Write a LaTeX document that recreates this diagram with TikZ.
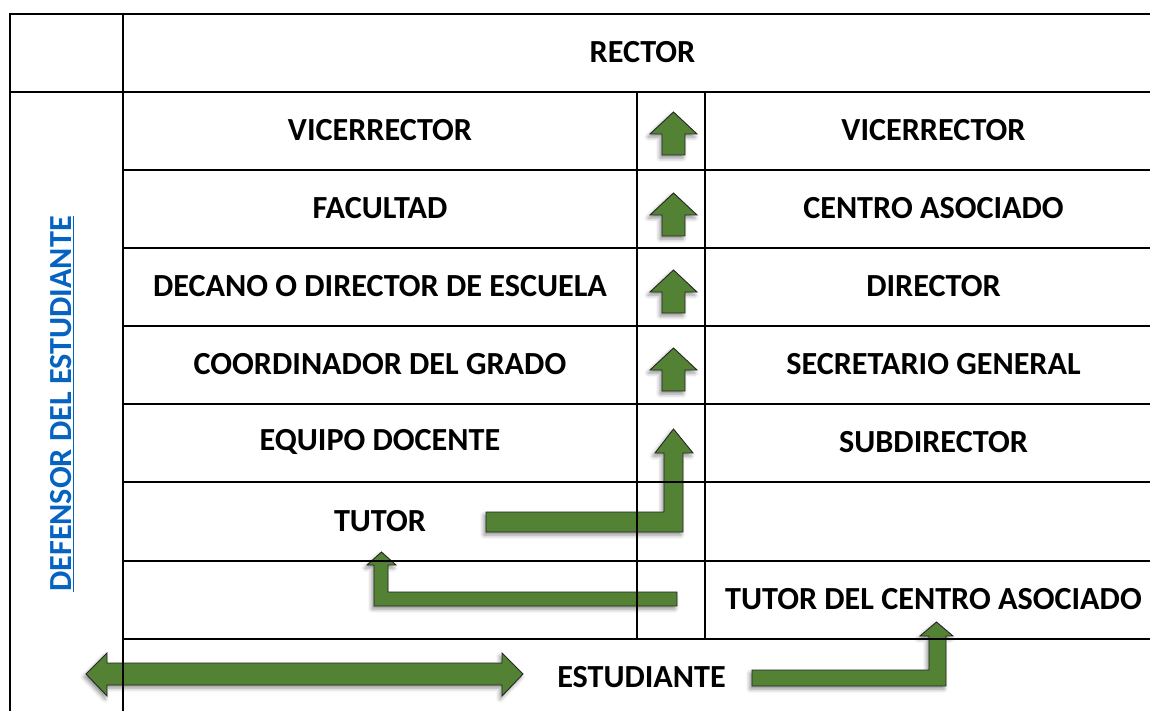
\documentclass[tikz,border=0pt]{standalone}
\usepackage{fontspec}
\setmainfont{Carlito}
\usetikzlibrary{shadows.blur}
\definecolor{agreen}{RGB}{84,130,53}
\definecolor{linkblue}{RGB}{5,99,193}
\tikzset{
  greenarrow/.style={fill=agreen, draw=black!85, line width=0.9pt, line join=miter,
    blur shadow={shadow xshift=-2pt, shadow yshift=-3pt, shadow blur radius=4pt, shadow opacity=45}},
  gridline/.style={line width=2pt, draw=black},
  celltext/.style={font=\bfseries\fontsize{32.2}{37}\selectfont, inner sep=0pt, text=black},
}
\newcommand\myuparrow[1]{%
  \path[greenarrow] (662,#1+43) -- (662,#1+22) -- (650,#1+22) -- (673.5,#1) -- (697,#1+22) -- (685,#1+22) -- (685,#1+43) -- cycle;}
\begin{document}
\begin{tikzpicture}[x=1pt,y=-1pt]
\useasboundingbox (0,0) rectangle (1150,711);
% arrows (under the grid)
\myuparrow{112}
\myuparrow{193}
\myuparrow{270}
\myuparrow{348}
\path[greenarrow] (486,512) -- (664,512) -- (664,453) -- (655,453) -- (673.5,429) -- (693,453) -- (683,453) -- (683,532) -- (486,532) -- cycle;
\path[greenarrow] (677,592) -- (388,592) -- (388,565) -- (396,565) -- (381.5,552) -- (367,565) -- (374,565) -- (374,606) -- (677,606) -- cycle;
\path[greenarrow] (752,670) -- (929,670) -- (929,636) -- (920,636) -- (936.5,622) -- (953,636) -- (946,636) -- (946,686) -- (752,686) -- cycle;
\path[greenarrow] (86,674) -- (107,653) -- (107,663) -- (502,663) -- (502,653) -- (523,674) -- (502,696) -- (502,685) -- (107,685) -- (107,696) -- cycle;
% grid
\draw[gridline] (10,711) -- (10,14) -- (1150,14);
\draw[gridline] (10,92) -- (1150,92);
\foreach \y in {170,248,326,404,482,561,639} \draw[gridline] (123,\y) -- (1150,\y);
\draw[gridline] (123,14) -- (123,711);
\draw[gridline] (637,92) -- (637,639);
\draw[gridline] (705,92) -- (705,639);
% texts
\node[celltext] (rector) at (642.5,52) {RECTOR};
\node[celltext] (l1) at (380,130) {VICERRECTOR};
\node[celltext] (l2) at (380,208) {FACULTAD};
\node[celltext] (l3) at (380,286) {DECANO O DIRECTOR DE ESCUELA};
\node[celltext] (l4) at (380,364) {COORDINADOR DEL GRADO};
\node[celltext] (l5) at (380,442) {EQUIPO DOCENTE};
\node[celltext] (l6) at (380,521) {TUTOR};
\node[celltext] (r1) at (933.5,130) {VICERRECTOR};
\node[celltext] (r2) at (933.5,208) {CENTRO ASOCIADO};
\node[celltext] (r3) at (933.5,286) {DIRECTOR};
\node[celltext] (r4) at (933.5,364) {SECRETARIO GENERAL};
\node[celltext] (r5) at (933.5,442) {SUBDIRECTOR};
\node[celltext] (r7) at (933.5,599) {TUTOR DEL CENTRO ASOCIADO};
\node[celltext] (est) at (641.5,677) {ESTUDIANTE};
\node[celltext, text=linkblue, rotate=90, anchor=base] (def) at (71.5,404) {\underline{DEFENSOR DEL ESTUDIANTE}};
\end{tikzpicture}
\end{document}
